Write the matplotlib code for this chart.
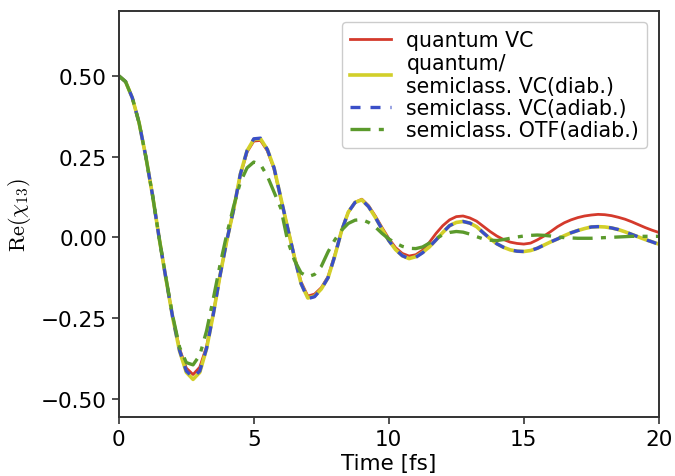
import numpy as np
import matplotlib
matplotlib.use("Agg")
import matplotlib.pyplot as plt

plt.rcParams['mathtext.fontset'] = 'cm'

# time grid [fs], step 0.25
time_fs = np.arange(0, 20.01, 0.25)

quantum_vc = [
	0.500, 0.482, 0.432, 0.355, 0.250, 0.130, -0.005, -0.130,
	-0.248, -0.345, -0.405, -0.425, -0.402, -0.338, -0.236, -0.118,
	-0.010, 0.085, 0.192, 0.264, 0.298, 0.300, 0.268, 0.212,
	0.120, 0.030, -0.058, -0.138, -0.182, -0.176, -0.156, -0.122,
	-0.055, 0.020, 0.078, 0.108, 0.118, 0.098, 0.066, 0.030,
	-0.004, -0.032, -0.050, -0.058, -0.054, -0.040, -0.016, 0.012,
	0.036, 0.054, 0.064, 0.066, 0.060, 0.050, 0.034, 0.018,
	0.004, -0.007, -0.015, -0.019, -0.021, -0.018, -0.008, 0.004,
	0.018, 0.033, 0.045, 0.054, 0.061, 0.066, 0.069, 0.071,
	0.070, 0.067, 0.062, 0.056, 0.048, 0.039, 0.030, 0.022,
	0.015]

semiclass_diab = [
	0.500, 0.482, 0.432, 0.355, 0.250, 0.130, -0.005, -0.130,
	-0.250, -0.352, -0.418, -0.440, -0.418, -0.345, -0.238, -0.118,
	-0.010, 0.085, 0.195, 0.268, 0.303, 0.305, 0.272, 0.215,
	0.122, 0.030, -0.060, -0.143, -0.188, -0.182, -0.160, -0.125,
	-0.058, 0.020, 0.078, 0.108, 0.116, 0.095, 0.062, 0.025,
	-0.010, -0.038, -0.057, -0.066, -0.060, -0.047, -0.030, -0.008,
	0.015, 0.036, 0.046, 0.049, 0.044, 0.033, 0.014, -0.004,
	-0.020, -0.031, -0.039, -0.043, -0.044, -0.041, -0.034, -0.024,
	-0.014, -0.005, 0.005, 0.014, 0.021, 0.027, 0.032, 0.033,
	0.032, 0.029, 0.024, 0.017, 0.009, 0.001, -0.007, -0.014,
	-0.021]

semiclass_adiab = [
	0.500, 0.482, 0.432, 0.355, 0.250, 0.130, -0.005, -0.130,
	-0.250, -0.350, -0.414, -0.434, -0.414, -0.344, -0.238, -0.118,
	-0.010, 0.085, 0.195, 0.268, 0.305, 0.307, 0.272, 0.215,
	0.122, 0.030, -0.060, -0.143, -0.190, -0.184, -0.160, -0.125,
	-0.058, 0.020, 0.078, 0.108, 0.116, 0.095, 0.062, 0.025,
	-0.010, -0.038, -0.057, -0.066, -0.062, -0.048, -0.030, -0.008,
	0.015, 0.036, 0.046, 0.049, 0.044, 0.033, 0.014, -0.004,
	-0.020, -0.031, -0.039, -0.043, -0.044, -0.041, -0.034, -0.024,
	-0.014, -0.005, 0.005, 0.014, 0.021, 0.027, 0.032, 0.033,
	0.032, 0.029, 0.024, 0.017, 0.009, 0.001, -0.007, -0.014,
	-0.022]

semiclass_otf = [
	0.500, 0.482, 0.432, 0.355, 0.250, 0.130, -0.005, -0.128,
	-0.245, -0.340, -0.388, -0.395, -0.365, -0.290, -0.190, -0.085,
	0.010, 0.095, 0.170, 0.215, 0.233, 0.225, 0.190, 0.140,
	0.090, -0.010, -0.070, -0.110, -0.122, -0.115, -0.090, -0.045,
	-0.008, 0.022, 0.043, 0.053, 0.055, 0.046, 0.032, 0.012,
	-0.005, -0.018, -0.028, -0.034, -0.035, -0.030, -0.018, -0.004,
	0.008, 0.015, 0.018, 0.016, 0.010, 0.002, -0.005, -0.009,
	-0.010, -0.007, -0.003, 0.001, 0.004, 0.006, 0.007, 0.006,
	0.004, 0.001, -0.001, -0.002, -0.003, -0.003, -0.003, -0.002,
	-0.001, 0.000, 0.001, 0.002, 0.003, 0.003, 0.003, 0.003,
	0.003]

labels = ['quantum VC',
		  'quantum/\nsemiclass. VC(diab.)',
		  'semiclass. VC(adiab.)',
		  'semiclass. OTF(adiab.)']

fig = plt.figure(figsize=(6.75, 4.77), dpi=100)
ax = fig.add_axes([0.176, 0.124, 0.8, 0.851])

ax.plot(time_fs, quantum_vc, color='#d43a2c', lw=2.0, label=labels[0])
ax.plot(time_fs, semiclass_diab, color='#d2cf2a', lw=2.6, label=labels[1])
ax.plot(time_fs, semiclass_adiab, color='#3a4fc8', lw=2.4, ls=(0, (3, 3)),
		label=labels[2])
ax.plot(time_fs, semiclass_otf, color='#5b9a2c', lw=2.4, ls=(0, (6, 2.5, 1.5, 2.5)),
		label=labels[3])

ax.set_xlim(0, 20)
ax.set_ylim(-0.556, 0.701)
ax.set_xticks([0, 5, 10, 15, 20])
ax.set_yticks([-0.5, -0.25, 0, 0.25, 0.5])
ax.set_yticklabels(['\u22120.50', '\u22120.25', '0.00', '0.25', '0.50'])
ax.tick_params(labelsize=15.5, length=5, width=1.2, color='#333333')
for s in ax.spines.values():
	s.set_linewidth(1.4)
	s.set_color('#333333')

ax.set_xlabel('Time [fs]', fontsize=15.5, labelpad=3)
ax.set_ylabel(r'$\mathrm{Re}(\chi_{13})$', fontsize=16, labelpad=6)

leg = ax.legend(loc='upper right', fontsize=14.8, handlelength=2.0,
				labelspacing=0.1, borderaxespad=0.55, handletextpad=0.75,
				borderpad=0.4, framealpha=1.0, edgecolor='#cccccc')

fig.savefig('out.png', dpi=100)
